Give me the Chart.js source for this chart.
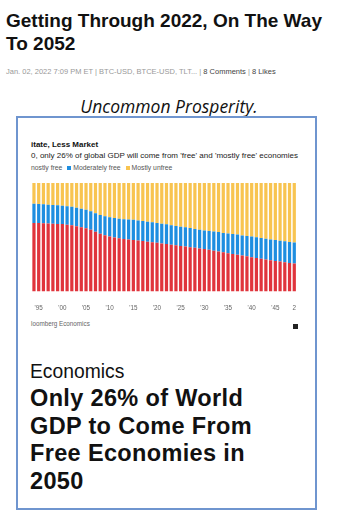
<!DOCTYPE html>
<html>
<head>
<meta charset="utf-8">
<script src="https://cdn.jsdelivr.net/npm/chart.js@4"></script>
<style>
  body { margin: 0; background: #fff; width: 340px; height: 519px; position: relative; overflow: hidden; font-family: "Liberation Sans", Arial, sans-serif; }
  .abs { position: absolute; white-space: nowrap; }
  #title { left: 6px; top: 9px; font-size: 19px; line-height: 23px; font-weight: bold; color: #111; }
  #meta { left: 6px; top: 67px; font-size: 7.5px; color: #999; }
  #meta b { color: #444; font-weight: normal; }
  #quote { left: 0; width: 338px; text-align: center; top: 94px; font-family: "Open Sans", Lato, sans-serif; font-style: italic; font-size: 17.5px; color: #111; }
  #box { left: 16px; top: 116px; width: 297px; height: 390px; border: 2px solid #6f95cf; }
  #ctitle { left: 31px; top: 140px; font-size: 8px; font-weight: bold; color: #111; }
  #csub { left: 31px; top: 151px; font-size: 8px; color: #222; }
  #clegend { left: 31px; top: 164px; font-size: 6.8px; color: #555; }
  .sw { display: inline-block; width: 4px; height: 4px; margin: 0 2px 0 5px; vertical-align: 0px; }
  #src { left: 31px; top: 320px; font-size: 6.3px; color: #666; }
  #logo { left: 293px; top: 324px; width: 5px; height: 5px; background: #222; }
  #kicker { left: 30px; top: 361px; font-size: 19.3px; color: #111; }
  #head { left: 30px; top: 385px; font-size: 23.5px; line-height: 27.7px; font-weight: bold; color: #111; letter-spacing: 0.35px; }
  #wrap { position: absolute; left: 29px; top: 183px; width: 272px; height: 134px; }
</style>
</head>
<body>
<div class="abs" id="title">Getting Through 2022, On The Way<br>To 2052</div>
<div class="abs" id="meta">Jan. 02, 2022 7:09 PM ET | BTC-USD, BTCE-USD, TLT... | <b>8 Comments</b> | <b>8 Likes</b></div>
<div class="abs" id="quote">Uncommon Prosperity.</div>
<div class="abs" id="box"></div>
<div class="abs" id="ctitle">itate, Less Market</div>
<div class="abs" id="csub">0, only 26% of global GDP will come from 'free' and 'mostly free' economies</div>
<div class="abs" id="clegend">nostly free<span class="sw" style="background:#1e8ee0"></span>Moderately free<span class="sw" style="background:#f8c450"></span>Mostly unfree</div>
<div id="wrap"><canvas id="gdpChart"></canvas></div>
<div class="abs" id="src">loomberg Economics</div>
<div class="abs" id="logo"></div>
<div class="abs" id="kicker">Economics</div>
<div class="abs" id="head">Only 26% of World<br>GDP to Come From<br>Free Economies in<br>2050</div>

<script>
const years = [1994, 1995, 1996, 1997, 1998, 1999, 2000, 2001, 2002, 2003, 2004, 2005, 2006, 2007,
    2008, 2009, 2010, 2011, 2012, 2013, 2014, 2015, 2016, 2017, 2018, 2019, 2020, 2021, 2022, 2023,
    2024, 2025, 2026, 2027, 2028, 2029, 2030, 2031, 2032, 2033, 2034, 2035, 2036, 2037, 2038, 2039,
    2040, 2041, 2042, 2043, 2044, 2045, 2046, 2047, 2048, 2049];

// share of world GDP, %
const mostlyFree = [63.2, 63.0, 62.8, 62.6, 62.5, 62.3, 62.1, 61.6, 61.0, 60.2, 59.3, 58.3, 56.8, 55.0,
    53.2, 51.8, 50.7, 49.8, 49.0, 48.3, 47.8, 47.4, 46.9, 46.4, 45.8, 45.3, 44.8, 44.2, 43.7, 43.1,
    42.5, 41.9, 41.4, 40.8, 40.2, 39.6, 39.1, 38.4, 37.6, 36.9, 36.1, 35.3, 34.6, 33.9, 33.1, 32.4,
    31.6, 30.9, 30.2, 29.5, 28.8, 28.1, 27.5, 26.9, 26.3, 25.8];
const moderatelyFree = [17.7, 17.6, 17.5, 17.4, 17.3, 17.1, 16.9, 16.9, 17.0, 17.0, 17.0, 17.0, 17.1, 17.2,
    17.4, 17.6, 17.7, 17.9, 18.1, 18.3, 18.5, 18.6, 18.6, 18.5, 18.5, 18.4, 18.4, 18.3, 18.2, 18.0,
    17.9, 17.8, 17.7, 17.6, 17.4, 17.3, 17.2, 17.4, 17.6, 17.8, 17.9, 18.1, 18.3, 18.5, 18.6, 18.8,
    19.0, 19.1, 19.1, 19.2, 19.2, 19.3, 19.3, 19.4, 19.4, 19.4];
const mostlyUnfree = [19.1, 19.4, 19.7, 20.0, 20.2, 20.6, 21.0, 21.5, 22.0, 22.8, 23.7, 24.7, 26.1, 27.8,
    29.4, 30.6, 31.6, 32.3, 32.9, 33.4, 33.7, 34.0, 34.5, 35.1, 35.7, 36.3, 36.8, 37.5, 38.1, 38.9,
    39.6, 40.3, 40.9, 41.6, 42.4, 43.1, 43.7, 44.2, 44.8, 45.3, 46.0, 46.6, 47.1, 47.6, 48.3, 48.8,
    49.4, 50.0, 50.7, 51.3, 52.0, 52.6, 53.2, 53.7, 54.3, 54.8];

const tickYears = [1995, 2000, 2005, 2010, 2015, 2020, 2025, 2030, 2035, 2040, 2045, 2049];
const tickLabels = ["'95", "'00", "'05", "'10", "'15", "'20", "'25", "'30", "'35", "'40", "'45", "2"];

const ctx = document.getElementById('gdpChart').getContext('2d');
const gdpChart = new Chart(ctx, {
    type: 'bar',
    data: {
        labels: years,
        datasets: [
            { label: 'Free/mostly free', data: mostlyFree, backgroundColor: '#e0343c' },
            { label: 'Moderately free', data: moderatelyFree, backgroundColor: '#1e8ee0' },
            { label: 'Mostly unfree', data: mostlyUnfree, backgroundColor: '#f8c450' }
        ]
    },
    options: {
        responsive: true,
        maintainAspectRatio: false,
        animation: false,
        layout: { padding: 0 },
        datasets: { bar: { barPercentage: 0.68, categoryPercentage: 1 } },
        scales: {
            x: {
                stacked: true,
                grid: { display: false },
                border: { display: false },
                ticks: {
                    autoSkip: false,
                    maxRotation: 0,
                    padding: 5,
                    color: '#666',
                    font: { size: 6.3, family: 'Liberation Sans' },
                    callback: function (value) {
                        const i = tickYears.indexOf(years[value]);
                        return i >= 0 ? tickLabels[i] : '';
                    }
                }
            },
            y: { stacked: true, min: 0, max: 100, display: false }
        },
        plugins: {
            legend: { display: false },
            tooltip: { enabled: false }
        }
    }
});
</script>
</body>
</html>
